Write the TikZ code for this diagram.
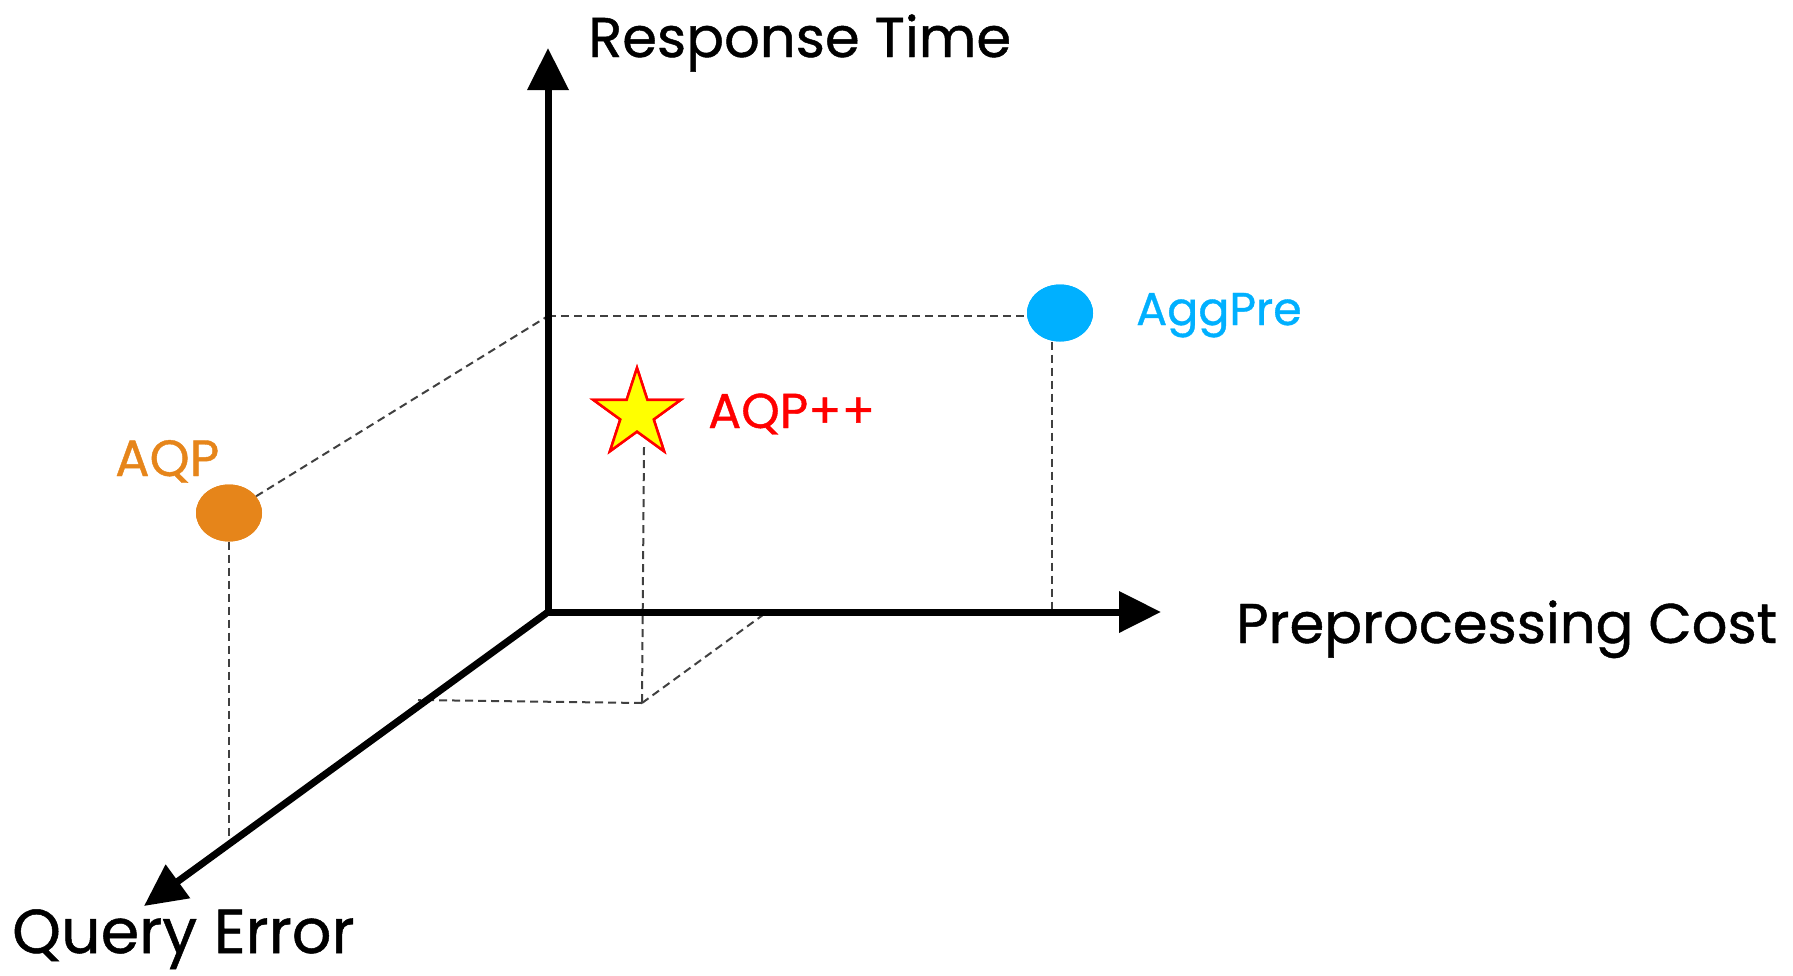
\documentclass[tikz,border=0pt]{standalone}
\usepackage{fontspec}
\setmainfont{Poppins}[FakeBold=0.8]
\usetikzlibrary{arrows.meta,shapes.geometric}
\definecolor{aqporange}{HTML}{E6851A}
\definecolor{aggblue}{HTML}{00B0FF}
\definecolor{guide}{HTML}{404040}
\definecolor{staryellow}{HTML}{FFFF00}
\definecolor{starred}{HTML}{FF0000}

\begin{document}
\begin{tikzpicture}[x=1pt,y=-1pt,
  axis/.style={line width=7pt, -{Triangle[length=42pt,width=40pt]}},
  guideline/.style={guide, line width=2pt, dash pattern=on 8pt off 5pt},
  axislabel/.style={inner sep=0pt, anchor=base west, font=\fontsize{56}{68}\selectfont},
  marklabel/.style={inner sep=0pt, anchor=base west, font=\fontsize{46}{55}\selectfont},
  dot/.style={ellipse, minimum width=66pt, minimum height=57pt, inner sep=0pt},
  starmark/.style={star, star points=5, star point ratio=2.618, minimum size=92pt,
      inner sep=0pt, fill=staryellow, draw=starred, line width=2.5pt},
]
\useasboundingbox (0,0) rectangle (1793,975);

% axes end points
\coordinate (o) at (548,612);
\coordinate (ytip) at (548,48);
\coordinate (xtip) at (1161,612);
\coordinate (ztip) at (144,906);

% feet of the projection lines
\coordinate (yfoot) at (548,316);
\coordinate (xfoot) at (1052,612);
\coordinate (zfoot) at (229,842);
\coordinate (base) at (642,703);
\coordinate (zside) at (418,700);
\coordinate (xside) at (767,612);
\coordinate (starfoot) at (644,447);

% data points (placed first so the guide lines can refer to them)
\node[dot, fill=aqporange] (aqp) at (229,513) {};
\node[dot, fill=aggblue] (aggpre) at (1060,313) {};
\node[starmark] (aqppp) at (637,414) {};

% projection lines
\draw[guideline] (aqp) -- (yfoot);
\draw[guideline] (yfoot) -- (yfoot -| aggpre.west);
\draw[guideline] (xfoot |- aggpre.south) -- (xfoot);
\draw[guideline] (aqp.south) -- (zfoot);
\draw[guideline] (starfoot) -- (base);
\draw[guideline] (base) -- (zside);
\draw[guideline] (base) -- (xside);

% axes
\draw[axis] (o) -- (ytip);
\draw[axis] (o) -- (xtip);
\draw[axis] (o) -- (ztip);

% marks drawn again above the guide lines
\node[dot, fill=aqporange] at (aqp) {};
\node[dot, fill=aggblue] at (aggpre) {};
\node[starmark] at (aqppp) {};

% labels
\node[axislabel] (ylab) at (588,57) {Response Time};
\node[axislabel] (xlab) at (1236,643) {Preprocessing Cost};
\node[axislabel, font=\fontsize{62}{72}\selectfont] (zlab) at (12,953) {Query Error};
\node[marklabel, text=aggblue] (agglab) at (1136,325) {AggPre};
\node[marklabel, text=starred, font=\fontsize{49}{58}\selectfont] (aqppplab) at (708,428) {AQP++};
\node[marklabel, text=aqporange, font=\fontsize{51}{60}\selectfont] (aqplab) at (115,476) {AQP};
\end{tikzpicture}
\end{document}
